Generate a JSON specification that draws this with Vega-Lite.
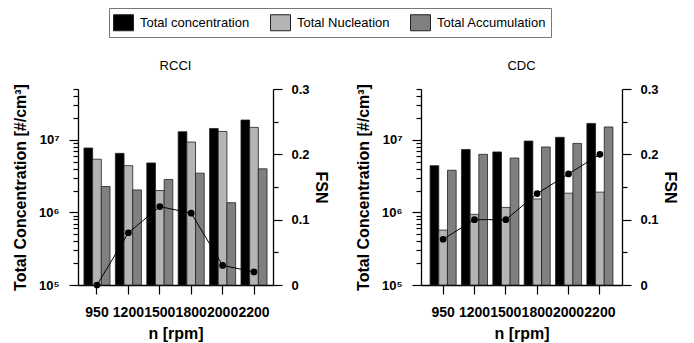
{
  "$schema": "https://vega.github.io/schema/vega-lite/v6.json",
  "padding": {"left": 12, "top": 7, "right": 5, "bottom": 2},
  "config": {
    "font": "Liberation Sans",
    "view": {"stroke": null},
    "axis": {"domainColor": "black", "tickColor": "black", "labelColor": "black", "titleColor": "black", "grid": false, "domainWidth": 1.3, "tickWidth": 1.2},
    "title": {"font": "Liberation Sans", "fontSize": 13, "fontWeight": "normal", "color": "black", "offset": 10}
  },
  "datasets": {
    "bars": [
      {"panel": "RCCI", "n": 950, "series": "Total concentration", "value": 7700000},
      {"panel": "RCCI", "n": 950, "series": "Total Nucleation", "value": 5400000},
      {"panel": "RCCI", "n": 950, "series": "Total Accumulation", "value": 2270000},
      {"panel": "RCCI", "n": 1200, "series": "Total concentration", "value": 6500000},
      {"panel": "RCCI", "n": 1200, "series": "Total Nucleation", "value": 4400000},
      {"panel": "RCCI", "n": 1200, "series": "Total Accumulation", "value": 2040000},
      {"panel": "RCCI", "n": 1500, "series": "Total concentration", "value": 4800000},
      {"panel": "RCCI", "n": 1500, "series": "Total Nucleation", "value": 2000000},
      {"panel": "RCCI", "n": 1500, "series": "Total Accumulation", "value": 2840000},
      {"panel": "RCCI", "n": 1800, "series": "Total concentration", "value": 12900000},
      {"panel": "RCCI", "n": 1800, "series": "Total Nucleation", "value": 9300000},
      {"panel": "RCCI", "n": 1800, "series": "Total Accumulation", "value": 3470000},
      {"panel": "RCCI", "n": 2000, "series": "Total concentration", "value": 14300000},
      {"panel": "RCCI", "n": 2000, "series": "Total Nucleation", "value": 13000000},
      {"panel": "RCCI", "n": 2000, "series": "Total Accumulation", "value": 1360000},
      {"panel": "RCCI", "n": 2200, "series": "Total concentration", "value": 18700000},
      {"panel": "RCCI", "n": 2200, "series": "Total Nucleation", "value": 14800000},
      {"panel": "RCCI", "n": 2200, "series": "Total Accumulation", "value": 3980000},
      {"panel": "CDC", "n": 950, "series": "Total concentration", "value": 4400000},
      {"panel": "CDC", "n": 950, "series": "Total Nucleation", "value": 570000},
      {"panel": "CDC", "n": 950, "series": "Total Accumulation", "value": 3800000},
      {"panel": "CDC", "n": 1200, "series": "Total concentration", "value": 7350000},
      {"panel": "CDC", "n": 1200, "series": "Total Nucleation", "value": 940000},
      {"panel": "CDC", "n": 1200, "series": "Total Accumulation", "value": 6300000},
      {"panel": "CDC", "n": 1500, "series": "Total concentration", "value": 6800000},
      {"panel": "CDC", "n": 1500, "series": "Total Nucleation", "value": 1170000},
      {"panel": "CDC", "n": 1500, "series": "Total Accumulation", "value": 5600000},
      {"panel": "CDC", "n": 1800, "series": "Total concentration", "value": 9600000},
      {"panel": "CDC", "n": 1800, "series": "Total Nucleation", "value": 1530000},
      {"panel": "CDC", "n": 1800, "series": "Total Accumulation", "value": 7960000},
      {"panel": "CDC", "n": 2000, "series": "Total concentration", "value": 10800000},
      {"panel": "CDC", "n": 2000, "series": "Total Nucleation", "value": 1840000},
      {"panel": "CDC", "n": 2000, "series": "Total Accumulation", "value": 8900000},
      {"panel": "CDC", "n": 2200, "series": "Total concentration", "value": 16800000},
      {"panel": "CDC", "n": 2200, "series": "Total Nucleation", "value": 1900000},
      {"panel": "CDC", "n": 2200, "series": "Total Accumulation", "value": 15000000}
    ],
    "fsn": [
      {"panel": "RCCI", "n": 950, "fsn": 0.0},
      {"panel": "RCCI", "n": 1200, "fsn": 0.08},
      {"panel": "RCCI", "n": 1500, "fsn": 0.12},
      {"panel": "RCCI", "n": 1800, "fsn": 0.11},
      {"panel": "RCCI", "n": 2000, "fsn": 0.03},
      {"panel": "RCCI", "n": 2200, "fsn": 0.02},
      {"panel": "CDC", "n": 950, "fsn": 0.07},
      {"panel": "CDC", "n": 1200, "fsn": 0.1},
      {"panel": "CDC", "n": 1500, "fsn": 0.1},
      {"panel": "CDC", "n": 1800, "fsn": 0.14},
      {"panel": "CDC", "n": 2000, "fsn": 0.17},
      {"panel": "CDC", "n": 2200, "fsn": 0.2}
    ]
  },
  "hconcat": [
    {
      "width": 195,
      "height": 196,
      "title": {"text": "RCCI"},
      "layer": [
        {
          "data": {"name": "bars"},
          "transform": [{"filter": "datum.panel == 'RCCI'"}],
          "mark": {"type": "bar", "stroke": "#222222", "strokeWidth": 0.8},
          "encoding": {
            "x": {"field": "n", "type": "ordinal", "scale": {"paddingInner": 0.17, "paddingOuter": 0.19},
              "axis": {"title": "n [rpm]", "labelAngle": 0, "labelOverlap": false, "labelFontSize": 14, "labelFontWeight": "bold", "labelPadding": 11, "tickSize": 9, "titleFontSize": 16, "titleFontWeight": "bold", "titlePadding": 6}},
            "xOffset": {"field": "series", "type": "nominal", "sort": ["Total concentration", "Total Nucleation", "Total Accumulation"], "scale": {"paddingInner": 0}},
            "y": {"field": "value", "type": "quantitative", "scale": {"type": "log", "domain": [100000, 50000000], "nice": false},
              "axis": {"title": "Total Concentration [#/cm³]", "titleFontSize": 16, "titleFontWeight": "bold", "titlePadding": 10,
                "values": [100000, 200000, 300000, 400000, 500000, 600000, 700000, 800000, 900000, 1000000, 2000000, 3000000, 4000000, 5000000, 6000000, 7000000, 8000000, 9000000, 10000000, 20000000, 30000000, 40000000, 50000000],
                "labelExpr": "datum.value == 100000 ? '10⁵' : datum.value == 1000000 ? '10⁶' : datum.value == 10000000 ? '10⁷' : ''",
                "labelFontSize": 13, "labelFontWeight": "bold", "labelPadding": 10,
                "tickSize": {"condition": {"test": "datum.value == 100000 || datum.value == 1000000 || datum.value == 10000000", "value": 9}, "value": 5}}},
            "y2": {"datum": 100000},
            "color": {"field": "series", "type": "nominal", "sort": ["Total concentration", "Total Nucleation", "Total Accumulation"],
              "scale": {"domain": ["Total concentration", "Total Nucleation", "Total Accumulation"], "range": ["#000000", "#b4b4b4", "#808080"]},
              "legend": {"title": null, "orient": "none", "legendX": 31, "legendY": -81, "direction": "horizontal", "symbolType": "M-1,-0.8H1V0.8H-1Z", "symbolSize": 400, "symbolStrokeColor": "#333333", "symbolStrokeWidth": 1, "labelFontSize": 13, "labelOffset": 6, "columnPadding": 18, "padding": 4, "strokeColor": "#777777"}}
          }
        },
        {
          "data": {"name": "fsn"},
          "transform": [{"filter": "datum.panel == 'RCCI'"}],
          "mark": {"type": "line", "color": "black", "strokeWidth": 1, "point": {"filled": true, "size": 45, "color": "black"}},
          "encoding": {
            "x": {"field": "n", "type": "ordinal"},
            "y": {"field": "fsn", "type": "quantitative", "scale": {"domain": [0, 0.3], "nice": false},
              "axis": {"orient": "right", "title": "FSN", "titleFontSize": 16, "titleFontWeight": "bold", "titlePadding": 3,
                "values": [0, 0.05, 0.1, 0.15, 0.2, 0.25, 0.3],
                "labelExpr": "abs(datum.value * 10 - round(datum.value * 10)) < 0.000001 ? (datum.value == 0 ? '0' : format(datum.value, '.1f')) : ''",
                "labelFontSize": 13, "labelFontWeight": "bold", "labelPadding": 9,
                "tickSize": {"condition": {"test": "abs(datum.value * 10 - round(datum.value * 10)) < 0.000001", "value": 9}, "value": 5}}}
          }
        }
      ],
      "resolve": {"scale": {"y": "independent"}}
    },
    {
      "width": 201,
      "height": 196,
      "title": {"text": "CDC"},
      "layer": [
        {
          "data": {"name": "bars"},
          "transform": [{"filter": "datum.panel == 'CDC'"}],
          "mark": {"type": "bar", "stroke": "#222222", "strokeWidth": 0.8},
          "encoding": {
            "x": {"field": "n", "type": "ordinal", "scale": {"paddingInner": 0.17, "paddingOuter": 0.29},
              "axis": {"title": "n [rpm]", "labelAngle": 0, "labelOverlap": false, "labelFontSize": 14, "labelFontWeight": "bold", "labelPadding": 11, "tickSize": 9, "titleFontSize": 16, "titleFontWeight": "bold", "titlePadding": 6}},
            "xOffset": {"field": "series", "type": "nominal", "sort": ["Total concentration", "Total Nucleation", "Total Accumulation"], "scale": {"paddingInner": 0}},
            "y": {"field": "value", "type": "quantitative", "scale": {"type": "log", "domain": [100000, 50000000], "nice": false},
              "axis": {"title": "Total Concentration [#/cm³]", "titleFontSize": 16, "titleFontWeight": "bold", "titlePadding": 10,
                "values": [100000, 200000, 300000, 400000, 500000, 600000, 700000, 800000, 900000, 1000000, 2000000, 3000000, 4000000, 5000000, 6000000, 7000000, 8000000, 9000000, 10000000, 20000000, 30000000, 40000000, 50000000],
                "labelExpr": "datum.value == 100000 ? '10⁵' : datum.value == 1000000 ? '10⁶' : datum.value == 10000000 ? '10⁷' : ''",
                "labelFontSize": 13, "labelFontWeight": "bold", "labelPadding": 10,
                "tickSize": {"condition": {"test": "datum.value == 100000 || datum.value == 1000000 || datum.value == 10000000", "value": 9}, "value": 5}}},
            "y2": {"datum": 100000},
            "color": {"field": "series", "type": "nominal", "sort": ["Total concentration", "Total Nucleation", "Total Accumulation"],
              "scale": {"domain": ["Total concentration", "Total Nucleation", "Total Accumulation"], "range": ["#000000", "#b4b4b4", "#808080"]}}
          }
        },
        {
          "data": {"name": "fsn"},
          "transform": [{"filter": "datum.panel == 'CDC'"}],
          "mark": {"type": "line", "color": "black", "strokeWidth": 1, "point": {"filled": true, "size": 45, "color": "black"}},
          "encoding": {
            "x": {"field": "n", "type": "ordinal"},
            "y": {"field": "fsn", "type": "quantitative", "scale": {"domain": [0, 0.3], "nice": false},
              "axis": {"orient": "right", "title": "FSN", "titleFontSize": 16, "titleFontWeight": "bold", "titlePadding": 3,
                "values": [0, 0.05, 0.1, 0.15, 0.2, 0.25, 0.3],
                "labelExpr": "abs(datum.value * 10 - round(datum.value * 10)) < 0.000001 ? (datum.value == 0 ? '0' : format(datum.value, '.1f')) : ''",
                "labelFontSize": 13, "labelFontWeight": "bold", "labelPadding": 9,
                "tickSize": {"condition": {"test": "abs(datum.value * 10 - round(datum.value * 10)) < 0.000001", "value": 9}, "value": 5}}}
          }
        }
      ],
      "resolve": {"scale": {"y": "independent"}}
    }
  ],
  "spacing": 26
}
